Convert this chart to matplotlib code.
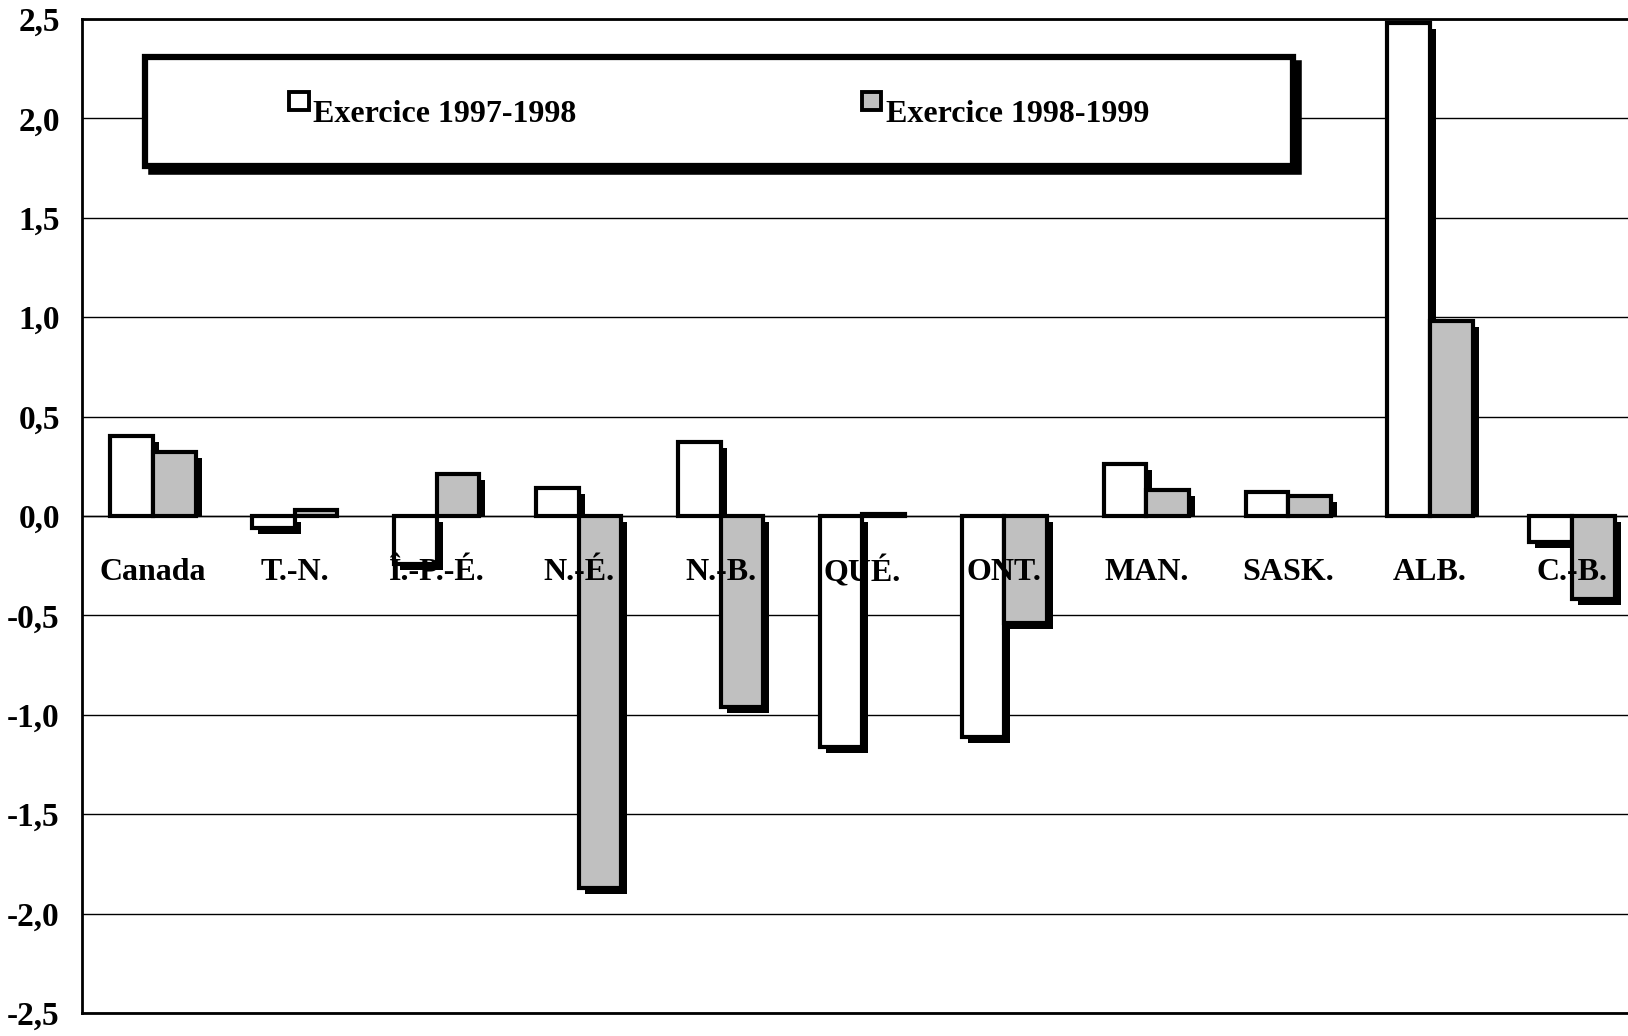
import matplotlib
matplotlib.use("Agg")
import matplotlib.pyplot as plt
import matplotlib.transforms as mtransforms
from matplotlib.patches import Rectangle
import numpy as np

categories = ["Canada", "T.-N.", "Î.-P.-É.", "N.-É.", "N.-B.", "QUÉ.", "ONT.",
              "MAN.", "SASK.", "ALB.", "C.-B."]
ex_1997 = [0.40, -0.06, -0.24, 0.14, 0.37, -1.16, -1.11, 0.26, 0.12, 2.48, -0.13]
ex_1998 = [0.32, 0.03, 0.21, -1.87, -0.96, 0.01, -0.54, 0.13, 0.10, 0.98, -0.42]
series_labels = ["Exercice 1997-1998", "Exercice 1998-1999"]
y_ticks = [2.5, 2.0, 1.5, 1.0, 0.5, 0.0, -0.5, -1.0, -1.5, -2.0, -2.5]

plt.rcParams['font.family'] = ['Liberation Serif', 'DejaVu Serif']
plt.rcParams['font.weight'] = 'bold'

fig = plt.figure(figsize=(16.28, 10.36), dpi=100)
ax = fig.add_axes([0.0504, 0.0222, 0.9496, 0.9595])

x = np.arange(len(categories))
w = 0.30
lw = 3.0
d = 0.03  # shadow drop in data units (~6 px)
shift_x = mtransforms.offset_copy(ax.transData, fig=fig, x=6, y=0, units='dots')

def draw_series(xpos, values, color, z):
    vals = np.array(values)
    bottoms = np.where(vals > 0, 0.0, -d)
    tops = np.where(vals > 0, np.maximum(vals - d, 0.0), vals - d)
    sh = ax.bar(xpos, tops - bottoms, w, bottom=bottoms, color='black',
                linewidth=0, zorder=z)
    for p in sh:
        p.set_transform(shift_x)
    ax.bar(xpos, vals, w, color=color, edgecolor='black', linewidth=lw, zorder=z + 1)

draw_series(x - w / 2, ex_1997, 'white', 2)
draw_series(x + w / 2, ex_1998, '#c0c0c0', 4)

for xi, name in zip(x, categories):
    ax.text(xi, -0.285, name, ha='center', va='center', fontsize=23,
            fontweight='bold', zorder=10)

ax.set_xlim(-0.5, 10.395)
ax.set_ylim(-2.5, 2.5)
ax.set_yticks(y_ticks)
ax.set_yticklabels([f"{v:.1f}".replace('.', ',') for v in y_ticks],
                   fontsize=24, fontweight='bold')
ax.set_xticks([])
ax.tick_params(axis='y', length=0, pad=16)
ax.yaxis.grid(True, color='black', linewidth=1.0)
ax.set_axisbelow(True)
ax.axhline(0, color='black', linewidth=1.0, zorder=1)
for s in ['left', 'bottom', 'top']:
    ax.spines[s].set_linewidth(2)
ax.spines['right'].set_visible(False)

# legend box
bx, by, bw, bh = 0.0405, 0.852, 0.7425, 0.11
ax.add_patch(Rectangle((bx, by), bw, bh, transform=mtransforms.offset_copy(
    ax.transAxes, fig=fig, x=6, y=-6, units='dots'),
    facecolor='black', edgecolor='black', linewidth=4, zorder=20, clip_on=False))
ax.add_patch(Rectangle((bx, by), bw, bh, transform=ax.transAxes,
                       facecolor='white', edgecolor='black', linewidth=4.5,
                       zorder=21, clip_on=False))
for lx, lab, col in [(0.134, series_labels[0], 'white'),
                     (0.5045, series_labels[1], '#c0c0c0')]:
    ax.add_patch(Rectangle((lx, 0.9085), 0.0125, 0.0185, transform=ax.transAxes,
                           facecolor=col, edgecolor='black', linewidth=2.8,
                           zorder=22, clip_on=False))
    ax.text(lx + 0.0155, 0.8964, lab, transform=ax.transAxes, fontsize=23,
            fontweight='bold', va='baseline', ha='left', zorder=23)

fig.savefig("out.png", dpi=100)
